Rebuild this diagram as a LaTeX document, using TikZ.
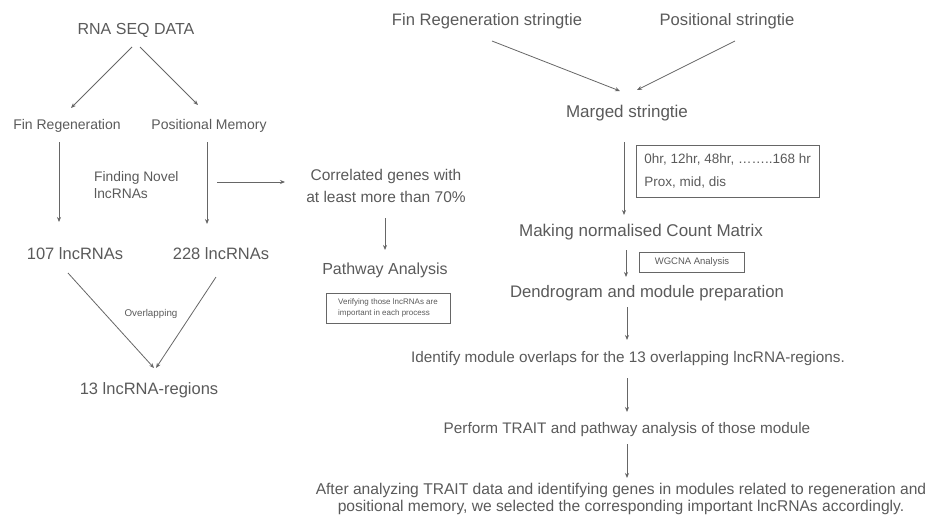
\documentclass[tikz,border=0pt]{standalone}
\usepackage{fontspec}
\setmainfont{Liberation Sans}
\usetikzlibrary{arrows.meta}
\definecolor{txt}{HTML}{5A5A5A}
\definecolor{ln}{HTML}{666666}
\tikzset{
  lbl/.style={inner sep=0pt, text=txt, font=\fontsize{16}{19}\selectfont, align=center},
  mid/.style={lbl, font=\fontsize{14}{17}\selectfont},
  small/.style={lbl, font=\fontsize{9.8}{11}\selectfont},
  note/.style={draw=ln, line width=0.8pt, inner xsep=4pt, inner ysep=3pt, text=txt, align=left},
  arr/.style={draw=ln, line width=0.8pt, -{Stealth[length=5pt,width=4pt]}}
}
\begin{document}
\begin{tikzpicture}[x=1pt,y=-1pt]
\useasboundingbox (0,0) rectangle (925,514);
% left column: lncRNA discovery
\node[lbl] (rna) at (136,30) {RNA SEQ DATA};
\node[mid] (fin) at (67,126) {Fin Regeneration};
\node[mid] (pos) at (209,126) {Positional Memory};
\node[mid, anchor=west, align=left, font=\fontsize{13.8}{17}\selectfont] (novel) at (94,185) {Finding Novel\\lncRNAs};
\node[lbl, font=\fontsize{16.5}{19}\selectfont] (l107) at (75,254) {107 lncRNAs};
\node[lbl, font=\fontsize{16.5}{19}\selectfont] (l228) at (221,254) {228 lncRNAs};
\node[small] (ovl) at (151,314) {Overlapping};
\node[lbl, font=\fontsize{16.5}{19}\selectfont] (r13) at (149,390) {13 lncRNA-regions};
% middle column: correlation and pathways
\node[lbl, font=\fontsize{15.5}{22}\selectfont] (corr) at (386,186) {Correlated genes with\\at least more than 70\%};
\node[lbl] (path) at (385,270) {Pathway Analysis};
\node[note, font=\fontsize{8}{10.5}\selectfont, minimum width=124pt, minimum height=30pt] (verify) at (388,308) {Verifying those lncRNAs are\\important in each process};
% right column: WGCNA workflow
\node[lbl, font=\fontsize{16.6}{19}\selectfont] (finS) at (487,21) {Fin Regeneration stringtie};
\node[lbl, font=\fontsize{16.6}{19}\selectfont] (posS) at (727,21) {Positional stringtie};
\node[lbl, font=\fontsize{17}{19}\selectfont] (merged) at (627,113) {Marged stringtie};
\node[note, font=\fontsize{13.5}{23}\selectfont, inner xsep=8pt, minimum width=172pt, minimum height=52pt, anchor=north west] (time) at (636,145) {0hr, 12hr, 48hr, ……..168 hr\\Prox, mid, dis};
\node[lbl, font=\fontsize{17}{19}\selectfont] (count) at (641,232) {Making normalised Count Matrix};
\node[note, font=\fontsize{9.5}{11}\selectfont, minimum width=105pt, minimum height=20pt, align=center] (wgcna) at (692,262) {WGCNA Analysis};
\node[lbl, font=\fontsize{16.7}{19}\selectfont] (dendro) at (647,293) {Dendrogram and module preparation};
\node[lbl, font=\fontsize{15.3}{19}\selectfont] (ident) at (628,359) {Identify module overlaps for the 13 overlapping lncRNA-regions.};
\node[lbl, font=\fontsize{15.3}{19}\selectfont] (trait) at (627,430) {Perform TRAIT and pathway analysis of those module};
\node[lbl, font=\fontsize{15.6}{17}\selectfont] (final) at (621,499) {After analyzing TRAIT data and identifying genes in modules related to regeneration and\\positional memory, we selected the corresponding important lncRNAs accordingly.};
% connectors
\draw[arr] ([shift={(-4,17)}]rna.center) -- ([shift={(4,-18)}]fin.center);
\draw[arr] ([shift={(4,17)}]rna.center) -- ([shift={(-11,-21)}]pos.center);
\draw[arr] ([shift={(-8,16)}]fin.center) -- ([shift={(-16,-32)}]l107.center);
\draw[arr] ([shift={(-2,16)}]pos.center) -- ([shift={(-14,-30)}]l228.center);
\draw[arr] ([shift={(123,-3)}]novel.west) -- ([shift={(-101,-4)}]corr.center);
\draw[arr] ([shift={(-7,19)}]l107.center) -- ([shift={(5,-22)}]r13.center);
\draw[arr] ([shift={(-5,23)}]l228.center) -- ([shift={(7,-22)}]r13.center);
\draw[arr] ([shift={(-1,32)}]corr.center) -- ([shift={(0,-20)}]path.center);
\draw[arr] ([shift={(5,20)}]finS.center) -- ([shift={(-7,-22)}]merged.center);
\draw[arr] ([shift={(8,20)}]posS.center) -- ([shift={(10,-23)}]merged.center);
\draw[arr] ([shift={(-3,29)}]merged.center) -- ([shift={(-17,-17)}]count.center);
\draw[arr] ([shift={(-15,18)}]count.center) -- ([shift={(-21,-16)}]dendro.center);
\draw[arr] ([shift={(-20,14)}]dendro.center) -- ([shift={(-1,-19)}]ident.center);
\draw[arr] ([shift={(-1,19)}]ident.center) -- ([shift={(0,-18)}]trait.center);
\draw[arr] ([shift={(0,14)}]trait.center) -- ([shift={(6,-21)}]final.center);
\end{tikzpicture}
\end{document}
